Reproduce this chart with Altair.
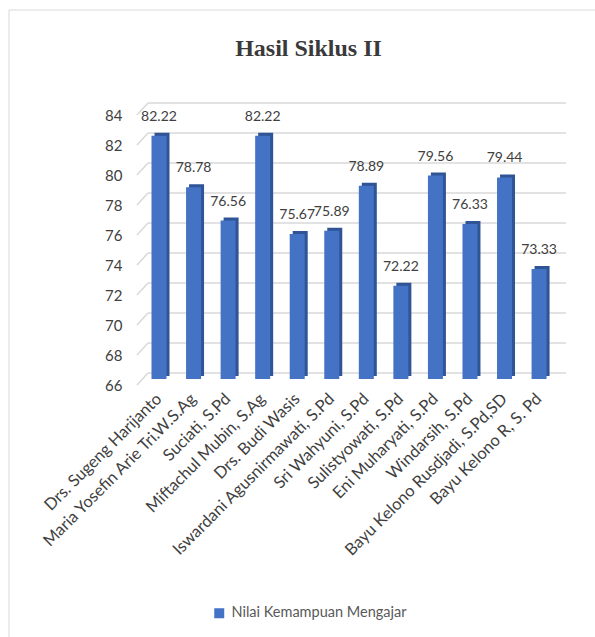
import altair as alt
import pandas as pd

# Teacher names and their cycle II teaching-ability scores
names = [
    "Drs. Sugeng Harijanto",
    "Maria Yosefin Arie Tri.W.S.Ag",
    "Suciati, S.Pd",
    "Miftachul Mubin, S.Ag",
    "Drs. Budi Wasis",
    "Iswardani Agusnirmawati, S.Pd",
    "Sri Wahyuni, S.Pd",
    "Sulistyowati, S.Pd",
    "Eni Muharyati, S.Pd",
    "Windarsih, S.Pd",
    "Bayu Kelono Rusdjadi, S.Pd,SD",
    "Bayu Kelono R, S. Pd",
]
scores = [82.22, 78.78, 76.56, 82.22, 75.67, 75.89, 78.89, 72.22, 79.56, 76.33, 79.44, 73.33]
series_name = "Nilai Kemampuan Mengajar"
y_ticks = [66, 68, 70, 72, 74, 76, 78, 80, 82, 84]
chart_title = "Hasil Siklus II"

W, H = 425, 270
PAD = {"left": 141, "top": 115, "right": 29, "bottom": 252}

TEXT = "#404040"
GRID = "#d9d9d9"
FRONT = "#4472C4"
SIDE = "#2F5597"

df = pd.DataFrame({"nama": names, "nilai": scores, "seri": series_name})
grid_df = pd.DataFrame({"nilai": y_ticks})
title_df = pd.DataFrame({"t": [chart_title]})
one = pd.DataFrame({"k": [0]})

x_enc = alt.X(
    "nama:N",
    sort=names,
    scale=alt.Scale(paddingInner=0.566, paddingOuter=0.433, align=0.351),
    axis=alt.Axis(
        title=None, labelAngle=-45, labelAlign="right", labelBaseline="middle",
        labelFont="Lato", labelFontSize=16.5, labelColor=TEXT, labelPadding=11,
        labelLimit=400, labelOverlap=False, ticks=False, domain=False, grid=False,
    ),
)
y_enc = alt.Y(
    "nilai:Q",
    scale=alt.Scale(domain=[66, 84], nice=False, zero=False),
    axis=alt.Axis(
        title=None, values=y_ticks, grid=False, ticks=False, domain=False,
        labelFont="Lato", labelFontSize=15, labelColor=TEXT, labelPadding=19,
    ),
)

# back-wall gridlines with a short slanted floor segment on the left
grid_slant = alt.Chart(grid_df).mark_rule(
    color=GRID, strokeWidth=1.5, y2Offset=-12
).encode(x=alt.value(-4), x2=alt.value(7), y=y_enc, y2="nilai:Q")
grid_back = alt.Chart(grid_df).mark_rule(
    color=GRID, strokeWidth=1.5, yOffset=-12
).encode(x=alt.value(7), x2=alt.value(W), y=y_enc)

base = alt.Chart(df)

# darker shifted copy gives the bars their side and top faces
bar_side = base.mark_bar(color=SIDE, xOffset=3, yOffset=-9, y2Offset=-9).encode(
    x=x_enc, y=y_enc, y2=alt.datum(66)
)
bar_front = base.mark_bar(yOffset=-6, y2Offset=-6).encode(
    x=x_enc,
    y=y_enc,
    y2=alt.datum(66),
    color=alt.Color(
        "seri:N",
        scale=alt.Scale(domain=[series_name], range=[FRONT]),
        legend=alt.Legend(
            title=None, orient="none", legendX=71, legendY=491, padding=0,
            symbolType="square", symbolSize=100, symbolStrokeWidth=0,
            labelFont="Lato", labelFontSize=14.5, labelColor="#595959",
            labelOffset=5, labelLimit=400,
        ),
    ),
)
labels = base.mark_text(
    font="Lato", fontSize=14, color=TEXT, baseline="alphabetic", dy=-21
).encode(x=x_enc, y=y_enc, text=alt.Text("nilai:Q", format=".2f"))

title = alt.Chart(title_df).mark_text(
    font="Liberation Serif", fontSize=24, fontWeight="bold", color="#3a3a3a",
    baseline="alphabetic", align="center",
).encode(x=alt.value(167.5), y=alt.value(-59), text="t:N")

# chart frame: top and left edges
frame_top = alt.Chart(one).mark_rule(color=GRID, strokeWidth=1).encode(
    x=alt.value(-132), x2=alt.value(W + 29), y=alt.value(-105)
)
frame_left = alt.Chart(one).mark_rule(color=GRID, strokeWidth=1).encode(
    x=alt.value(-132), y=alt.value(-105), y2=alt.value(H + 252)
)

chart = alt.layer(
    frame_top, frame_left, grid_slant, grid_back, bar_side, bar_front, labels, title
).properties(
    width=W, height=H, padding=PAD,
    autosize=alt.AutoSizeParams(type="none"),
    background="white",
).configure_view(stroke=None)

chart.save("out.html", embed_options={"renderer": "svg", "actions": False})
